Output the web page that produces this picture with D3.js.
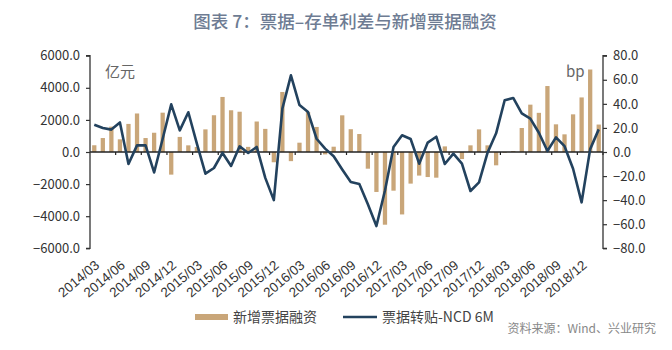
<!DOCTYPE html>
<html><head><meta charset="utf-8">
<script src="https://cdn.jsdelivr.net/npm/d3@7"></script>
<style>
html,body{margin:0;padding:0;background:#fff;}
svg{display:block;}
</style></head>
<body>
<svg id="c" width="672" height="350"></svg>
<script>
const months = ["2014/03","2014/04","2014/05","2014/06","2014/07","2014/08","2014/09","2014/10","2014/11","2014/12",
"2015/01","2015/02","2015/03","2015/04","2015/05","2015/06","2015/07","2015/08","2015/09","2015/10","2015/11","2015/12",
"2016/01","2016/02","2016/03","2016/04","2016/05","2016/06","2016/07","2016/08","2016/09","2016/10","2016/11","2016/12",
"2017/01","2017/02","2017/03","2017/04","2017/05","2017/06","2017/07","2017/08","2017/09","2017/10","2017/11","2017/12",
"2018/01","2018/02","2018/03","2018/04","2018/05","2018/06","2018/07","2018/08","2018/09","2018/10","2018/11","2018/12",
"2019/01","2019/02"];
// 新增票据融资 (亿元)
const billFinancing = [420,870,1580,790,1750,2400,870,1200,2450,-1410,
940,415,310,1410,2290,3430,2600,2510,320,1900,1440,-640,
3740,-570,580,2490,1560,-150,330,2285,1420,1120,-1040,-2490,
-4530,-2410,-3890,-1970,-1470,-1560,-1600,350,20,-440,415,1410,
415,-830,-50,60,1495,2950,2440,4110,1724,1100,2346,3400,
5140,1710];
// 票据转贴-NCD 6M (bp)
const spread = [22.7,20,18.6,24.6,-10,5.5,5.5,-17,11,39.6,
18,33,7,-18,-13.3,-0.8,-11.6,4.7,-0.8,4.2,-21.5,-40,
36,63.7,39,33.2,11,2.8,-3.5,-14.5,-25,-26.5,-43.5,-61.5,
-32,4.2,13.9,10.8,-9.7,7.8,12.7,-10,-1.4,-9.7,-32.4,-25.3,
-0.5,15.5,43,44.9,32,27.7,16,0.8,12.2,4.8,-13.9,-41.8,
2.4,18.8];
const xTickLabels = ["2014/03","2014/06","2014/09","2014/12","2015/03","2015/06","2015/09","2015/12",
"2016/03","2016/06","2016/09","2016/12","2017/03","2017/06","2017/09","2017/12",
"2018/03","2018/06","2018/09","2018/12"];
const leftTicks = [6000,4000,2000,0,-2000,-4000,-6000];
const rightTicks = [80,60,40,20,0,-20,-40,-60,-80];
const seriesNames = ["新增票据融资","票据转贴-NCD 6M"];

const barColor = "#c9a679", lineColor = "#23425e";
const svg = d3.select("#c");
const L = 90, R = 603, T = 55.7, B = 248.3;
const x = d3.scaleBand().domain(months).range([L, R]).paddingInner(0.5).paddingOuter(0.25);
const yL = d3.scaleLinear().domain([-6000, 6000]).range([B, T]);
const yR = d3.scaleLinear().domain([-80, 80]).range([B, T]);
const cx = m => x(m) + x.bandwidth() / 2;
const step = x.step();

// title
svg.append("text").attr("x", 345).attr("y", 28).attr("text-anchor", "middle")
  .attr("font-family", "Noto Sans CJK SC").attr("font-size", 17.5).attr("font-weight", 500)
  .attr("fill", "#6e7c93").text("图表 7：票据–存单利差与新增票据融资");

// bars
svg.append("g").selectAll("rect").data(months).join("rect")
  .attr("x", (m) => x(m))
  .attr("width", x.bandwidth())
  .attr("y", (m, i) => yL(Math.max(0, billFinancing[i])))
  .attr("height", (m, i) => Math.abs(yL(billFinancing[i]) - yL(0)))
  .attr("fill", barColor);

// zero line with ticks
const z = yL(0);
svg.append("line").attr("x1", L).attr("x2", R).attr("y1", z).attr("y2", z)
  .attr("stroke", "#222").attr("stroke-width", 1.3);
const tickIdx = d3.range(3, months.length + 1, 3);
svg.append("g").selectAll("line").data(tickIdx).join("line")
  .attr("x1", i => L + step * i).attr("x2", i => L + step * i)
  .attr("y1", z).attr("y2", z + 3).attr("stroke", "#222").attr("stroke-width", 1.2);

// line
const line = d3.line().x((d, i) => cx(months[i])).y(d => yR(d)).curve(d3.curveLinear);
svg.append("path").datum(spread).attr("d", line).attr("fill", "none")
  .attr("stroke", lineColor).attr("stroke-width", 2.6).attr("stroke-linejoin", "round");

// left axis
const gl = svg.append("g").attr("transform", `translate(${L},0)`)
  .call(d3.axisLeft(yL).tickValues(leftTicks).tickFormat(d3.format(".1f")).tickSize(4).tickPadding(6));
gl.select(".domain").attr("stroke", "#333").attr("stroke-width", 1.3).attr("d", `M-4,${T}H0V${B}H-4`);
gl.selectAll(".tick line").attr("stroke", "#333").attr("stroke-width", 1.2);
gl.selectAll("text").attr("font-family", "Noto Sans CJK SC").attr("font-size", 13).attr("fill", "#333");

// right axis
const gr = svg.append("g").attr("transform", `translate(${R},0)`)
  .call(d3.axisRight(yR).tickValues(rightTicks).tickFormat(d3.format(".1f")).tickSize(4).tickPadding(6));
gr.select(".domain").attr("stroke", "#333").attr("stroke-width", 1.3).attr("d", `M4,${T}H0V${B}H4`);
gr.selectAll(".tick line").attr("stroke", "#333").attr("stroke-width", 1.2);
gr.selectAll("text").attr("font-family", "Noto Sans CJK SC").attr("font-size", 13).attr("fill", "#333");

// x labels
svg.append("g").selectAll("text").data(xTickLabels).join("text")
  .attr("transform", d => `translate(${cx(d) + 3},${263}) rotate(-40)`)
  .attr("text-anchor", "end").attr("dy", "0.35em")
  .attr("font-family", "Liberation Sans, Arial").attr("font-size", 13.5).attr("fill", "#333")
  .text(d => d);

// unit labels
svg.append("text").attr("x", 105).attr("y", 77).attr("font-family", "Noto Sans CJK SC")
  .attr("font-size", 15).attr("fill", "#666").text("亿元");
svg.append("text").attr("x", 566).attr("y", 77).attr("font-family", "Noto Sans CJK SC")
  .attr("font-size", 15).attr("fill", "#666").text("bp");

// legend
const ly = 317;
svg.append("rect").attr("x", 195).attr("y", ly - 3).attr("width", 33).attr("height", 6).attr("fill", barColor);
svg.append("text").attr("x", 233).attr("y", ly).attr("dy", "0.35em").attr("font-family", "Noto Sans CJK SC")
  .attr("font-size", 14).attr("fill", "#444").text(seriesNames[0]);
svg.append("line").attr("x1", 343).attr("x2", 377).attr("y1", ly).attr("y2", ly)
  .attr("stroke", lineColor).attr("stroke-width", 2.6);
svg.append("text").attr("x", 382).attr("y", ly).attr("dy", "0.35em").attr("font-family", "Noto Sans CJK SC")
  .attr("font-size", 14).attr("fill", "#444").text(seriesNames[1]);

// source
svg.append("text").attr("x", 656).attr("y", 333).attr("text-anchor", "end").attr("font-family", "Noto Sans CJK SC")
  .attr("font-size", 12).attr("fill", "#888").text("资料来源：Wind、兴业研究");
</script>
</body></html>
